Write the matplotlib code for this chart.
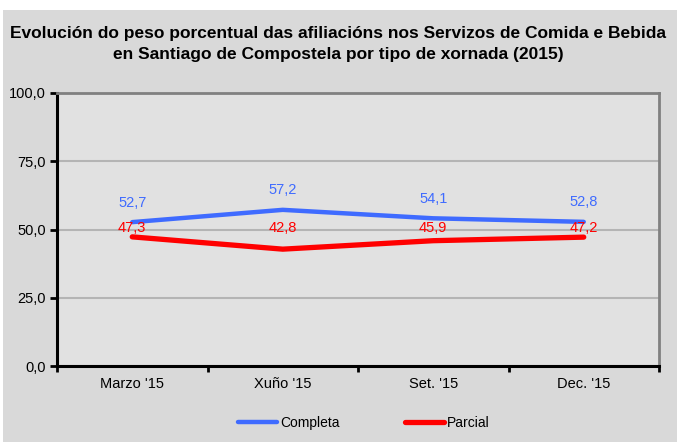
import matplotlib.pyplot as plt
from matplotlib.patches import Rectangle
from matplotlib.ticker import FixedLocator, FuncFormatter

categories = ["Marzo '15", "Xuño '15", "Set. '15", "Dec. '15"]
completa = [52.7, 57.2, 54.1, 52.8]
parcial = [47.3, 42.8, 45.9, 47.2]
yticks = [0, 25, 50, 75, 100]

blue = "#3f6bff"
red = "#ff0000"

plt.rcParams["font.family"] = ["Liberation Sans", "DejaVu Sans"]

fig = plt.figure(figsize=(6.77, 4.42), dpi=100)
fig.patch.set_facecolor("white")

# gray chart area with white margin on top/left
fig.patches.append(
    Rectangle((3 / 677, 0), 1, 1 - 10 / 442,
              transform=fig.transFigure, facecolor="#d9d9d9",
              edgecolor="none", zorder=-10)
)

ax = fig.add_axes([57 / 677, 1 - 366 / 442, 602 / 677, 273 / 442])
ax.set_facecolor("#e1e1e1")

x = range(len(categories))

ax.plot(x, completa, color=blue, lw=3.2, solid_capstyle="round",
        label="Completa", zorder=3)
ax.plot(x, parcial, color=red, lw=3.8, solid_capstyle="round",
        label="Parcial", zorder=3)

for i, v in enumerate(completa):
    ax.annotate(f"{v:.1f}".replace(".", ","), (i, v), xytext=(0, 14),
                textcoords="offset points", ha="center", va="center",
                color=blue, fontsize=10.5, zorder=4)

# red labels sit in one row just above the 50 gridline
for i, v in enumerate(parcial):
    ax.text(i, 50.6, f"{v:.1f}".replace(".", ","), ha="center", va="center",
            color=red, fontsize=10.5, zorder=4)

ax.set_xlim(-0.5, len(categories) - 0.5)
ax.set_ylim(0, 100)

ax.set_yticks(yticks)
ax.yaxis.set_major_formatter(FuncFormatter(lambda v, p: f"{v:.1f}".replace(".", ",")))
ax.grid(axis="y", color="#b4b4b4", lw=1.5, zorder=1)

ax.set_xticks(list(x))
ax.set_xticklabels(categories)
ax.xaxis.set_minor_locator(FixedLocator([i - 0.5 for i in range(len(categories) + 1)]))
ax.tick_params(axis="x", which="major", length=0, pad=8, labelsize=10.5)
ax.tick_params(axis="x", which="minor", length=4, width=2, direction="out")
ax.tick_params(axis="y", length=5, width=2, direction="out", labelsize=10.5, pad=3)

ax.spines["left"].set_color("black")
ax.spines["left"].set_linewidth(2.2)
ax.spines["bottom"].set_color("black")
ax.spines["bottom"].set_linewidth(2.2)
ax.spines["top"].set_color("#808080")
ax.spines["top"].set_linewidth(2)
ax.spines["right"].set_color("#808080")
ax.spines["right"].set_linewidth(2)

fig.text(0.5, 1 - 44 / 442,
         "Evolución do peso porcentual das afiliacións nos Servizos de Comida e Bebida\n"
         "en Santiago de Compostela por tipo de xornada (2015)",
         ha="center", va="center", fontsize=12.5, fontweight="bold",
         linespacing=1.55)

fig.legend(loc="center", bbox_to_anchor=(364 / 677, 1 - 423 / 442), ncol=2,
           frameon=False, fontsize=10, handlelength=2.8, handletextpad=0.22,
           columnspacing=4.7)

fig.savefig("out.png", dpi=100)
